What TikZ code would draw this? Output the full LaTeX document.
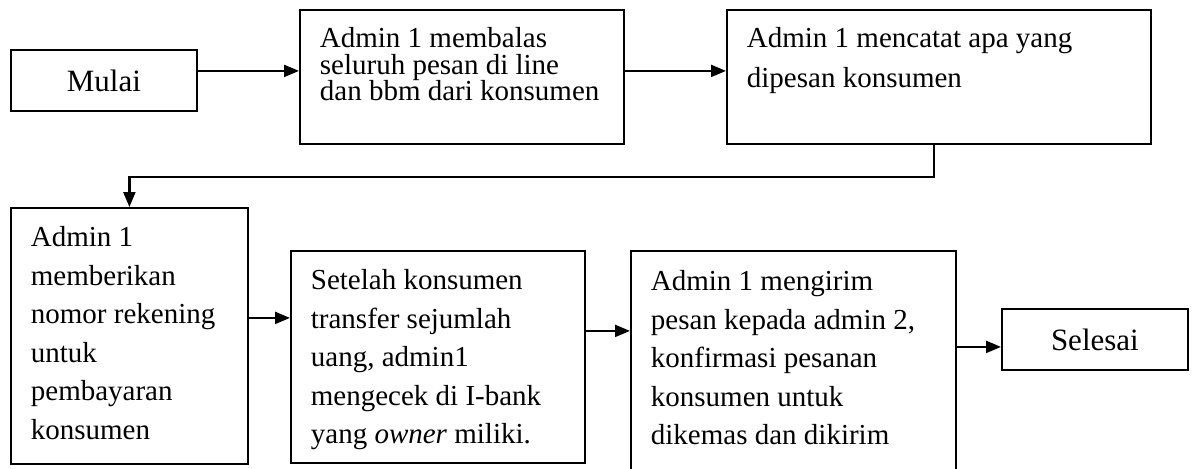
\documentclass[tikz,border=0pt]{standalone}
\usepackage{fontspec}
\setmainfont{Liberation Serif}
\usetikzlibrary{arrows.meta}

\tikzset{
  langkah/.style={text width=#1, align=flush left, inner xsep=10pt, inner ysep=0pt,
    font=\fontsize{14.5}{19.25}\selectfont},
  ujung/.style={minimum width=93pt, minimum height=30.5pt, inner sep=0pt,
    font=\fontsize{15.5}{18}\selectfont}
}

\begin{document}
\begin{tikzpicture}[x=0.5pt,y=-0.5pt]
      \useasboundingbox (0,0) rectangle (1194,468);
      \clip (0,0) rectangle (1194,468);

      \begin{scope}[every node/.style={draw,line width=0.9pt,anchor=north west}]
        \node[ujung] (mulai) at (10,49) {Mulai};
        \node[langkah=142pt,text height=19pt,text depth=48pt,
          font=\fontsize{14.5}{13.25}\selectfont] (pesan) at (299,9)
          {Admin 1 membalas\\ seluruh pesan di line\\ dan bbm dari konsumen};
        \node[langkah=192pt,text height=19pt,text depth=48pt,
          font=\fontsize{14.5}{20}\selectfont] (catat) at (726,9)
          {Admin 1 mencatat apa yang\\ dipesan konsumen};
        \node[langkah=98.5pt,text height=19.5pt,text depth=108.5pt] (rekening) at (10,207)
          {Admin 1\\ memberikan\\ nomor rekening\\ untuk\\ pembayaran\\ konsumen};
        \node[langkah=127pt,text height=19.5pt,text depth=86.5pt] (transfer) at (290,250)
          {Setelah konsumen\\ transfer sejumlah\\ uang, admin1\\ mengecek di I-bank\\ yang \textit{owner} miliki.};
        \node[langkah=142.5pt,text height=20pt,text depth=95pt] (kirim) at (630,250)
          {Admin 1 mengirim\\ pesan kepada admin 2,\\ konfirmasi pesanan\\ konsumen untuk\\ dikemas dan dikirim};
        \node[ujung] (selesai) at (1001,308) {Selesai};
      \end{scope}

      \begin{scope}[every edge/.style={draw,line width=1.1pt,-{Triangle[length=7.5pt,width=6pt]}}]
        \path ([yshift=4.75pt]mulai.east) edge ([yshift=3pt]pesan.west);
        \path ([yshift=3pt]pesan.east) edge ([yshift=3pt]catat.west);
        \path ([xshift=-2.5pt]catat.south) edge[to path={-- ++(0,32) -| (\tikztotarget)}] (rekening.north);
        \path ([yshift=9pt]rekening.east) edge ([yshift=19.5pt]transfer.west);
        \path ([yshift=13pt]transfer.east) edge ([yshift=17.5pt]kirim.west);
        \path ([yshift=9.5pt]kirim.east) edge ([yshift=-3.75pt]selesai.west);
      \end{scope}

    \end{tikzpicture}
\end{document}
